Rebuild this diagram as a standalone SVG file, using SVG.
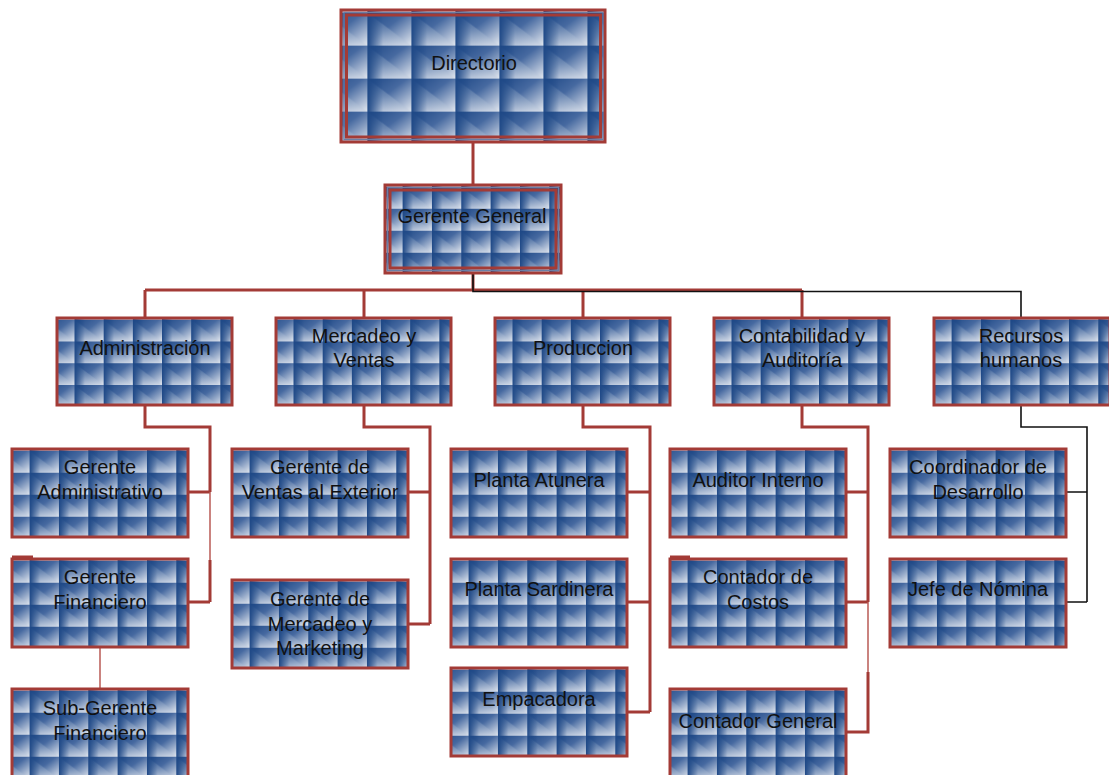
<svg xmlns="http://www.w3.org/2000/svg" width="1109" height="775" viewBox="0 0 1109 775">
<defs>
<linearGradient id="gd" x1="0" y1="0" x2="1" y2="1">
<stop offset="0" stop-color="#1e4886"/>
<stop offset="0.45" stop-color="#4669a0"/>
<stop offset="1" stop-color="#e3e8f0"/>
</linearGradient>
<linearGradient id="gv" x1="0" y1="0" x2="0" y2="1">
<stop offset="0" stop-color="#25508e"/>
<stop offset="1" stop-color="#cfd8e6"/>
</linearGradient>
<linearGradient id="gh" x1="0" y1="0" x2="1" y2="0">
<stop offset="0" stop-color="#1e4886" stop-opacity="1"/>
<stop offset="1" stop-color="#1e4886" stop-opacity="0"/>
</linearGradient>
<pattern id="tex" patternUnits="objectBoundingBox" patternContentUnits="objectBoundingBox" x="0.1" y="0.02" width="0.1667" height="0.25">
<rect x="0" y="0" width="0.1667" height="0.25" fill="url(#gd)"/>
<polygon points="0,0 0,0.25 0.1667,0.25" fill="url(#gv)" opacity="0.7"/>
<rect x="0" y="0" width="0.06" height="0.25" fill="url(#gh)"/>
</pattern>
<style>
.box{fill:url(#tex);stroke:#a33b36;stroke-width:3}
.in{fill:none;stroke:#a33b36;stroke-width:3}
.thin{fill:none;stroke:#6a7fa6;stroke-width:1}
.t{font-family:"Liberation Sans",Arial,sans-serif;font-size:20px;fill:#111;text-anchor:middle}
.c{fill:none;stroke:#a33b36;stroke-width:3}
.cl{fill:none;stroke:#b85a55;stroke-width:1.5}
.k{fill:none;stroke:#111;stroke-width:1.6}
</style>
</defs>
<rect width="1109" height="775" fill="#fff"/>

<g id="connectors">
<path class="c" d="M473,142V185"/>
<path class="c" d="M473,273V290M145,290H802M145,290V318M364,290V318M583,290V318M802,290V318"/>
<path class="k" d="M473,273V291.5H1021V318"/>
<path class="c" d="M145,405V427H210V492M188,492H210M188,602H210"/>
<path class="cl" d="M210,492V602"/>
<path class="c" d="M210,560V602"/>
<path class="cl" d="M100,647V689"/>
<path class="c" d="M364,405V427H430V624M408,492H430M408,624H430"/>
<path class="c" d="M583,405V427H650V712M627,492H650M627,602H650M627,712H650"/>
<path class="c" d="M802,405V427H868V602M846,492H868M846,602H868M846,732H868V672"/>
<path class="cl" d="M868,602V672"/>
<path class="k" d="M1021,405V427H1087V602M1066,492H1087M1066,602H1087"/>
</g>

<g id="directorio">
<rect class="box" x="341" y="10" width="264" height="132"/>
<rect class="thin" x="344" y="12.5" width="259" height="127"/>
<rect class="in" x="346.5" y="15" width="254" height="122"/>
<text class="t" x="474" y="70">Directorio</text>
</g>

<g id="gerente-general">
<rect class="box" x="385" y="185" width="176" height="88"/>
<rect class="thin" x="387.5" y="187.5" width="171" height="83"/>
<rect class="in" x="390" y="190" width="166" height="78"/>
<text class="t" x="472" y="223">Gerente General</text>
</g>

<g id="administracion">
<rect class="box" x="57" y="318" width="175" height="87"/>
<text class="t" x="145" y="355">Administración</text>
</g>
<g id="mercadeo-ventas">
<rect class="box" x="276" y="318" width="175" height="87"/>
<text class="t" x="364" y="343">Mercadeo y</text>
<text class="t" x="364" y="367">Ventas</text>
</g>
<g id="produccion">
<rect class="box" x="495" y="318" width="175" height="87"/>
<text class="t" x="583" y="355">Produccion</text>
</g>
<g id="contabilidad">
<rect class="box" x="714" y="318" width="175" height="87"/>
<text class="t" x="802" y="343">Contabilidad y</text>
<text class="t" x="802" y="367">Auditoría</text>
</g>
<g id="recursos-humanos">
<rect class="box" x="934" y="318" width="176" height="87"/>
<text class="t" x="1021" y="343">Recursos</text>
<text class="t" x="1021" y="367">humanos</text>
</g>

<g id="gerente-administrativo">
<rect class="box" x="12" y="449" width="176" height="88"/>
<text class="t" x="100" y="474">Gerente</text>
<text class="t" x="100" y="499">Administrativo</text>
</g>
<g id="gerente-financiero">
<rect class="box" x="12" y="559" width="176" height="88"/>
<path class="c" d="M12,557H33"/>
<text class="t" x="100" y="584">Gerente</text>
<text class="t" x="100" y="609">Financiero</text>
</g>
<g id="sub-gerente-financiero">
<rect class="box" x="12" y="689" width="176" height="88"/>
<text class="t" x="100" y="715">Sub-Gerente</text>
<text class="t" x="100" y="740">Financiero</text>
</g>

<g id="gerente-ventas-exterior">
<rect class="box" x="232" y="449" width="176" height="88"/>
<text class="t" x="320" y="474">Gerente de</text>
<text class="t" x="320" y="499">Ventas al Exterior</text>
</g>
<g id="gerente-mercadeo-marketing">
<rect class="box" x="232" y="580" width="176" height="88"/>
<text class="t" x="320" y="606">Gerente de</text>
<text class="t" x="320" y="631">Mercadeo y</text>
<text class="t" x="320" y="655">Marketing</text>
</g>

<g id="planta-atunera">
<rect class="box" x="451" y="449" width="176" height="88"/>
<text class="t" x="539" y="487">Planta Atunera</text>
</g>
<g id="planta-sardinera">
<rect class="box" x="451" y="559" width="176" height="88"/>
<text class="t" x="539" y="596">Planta Sardinera</text>
</g>
<g id="empacadora">
<rect class="box" x="451" y="668" width="176" height="88"/>
<text class="t" x="539" y="706">Empacadora</text>
</g>

<g id="auditor-interno">
<rect class="box" x="670" y="449" width="176" height="88"/>
<text class="t" x="758" y="487">Auditor Interno</text>
</g>
<g id="contador-costos">
<rect class="box" x="670" y="559" width="176" height="88"/>
<path class="c" d="M670,557H690"/>
<text class="t" x="758" y="584">Contador de</text>
<text class="t" x="758" y="609">Costos</text>
</g>
<g id="contador-general">
<rect class="box" x="670" y="689" width="176" height="88"/>
<text class="t" x="758" y="728">Contador General</text>
</g>

<g id="coordinador-desarrollo">
<rect class="box" x="890" y="449" width="176" height="88"/>
<text class="t" x="978" y="474">Coordinador de</text>
<text class="t" x="978" y="499">Desarrollo</text>
</g>
<g id="jefe-nomina">
<rect class="box" x="890" y="559" width="176" height="88"/>
<text class="t" x="978" y="596">Jefe de Nómina</text>
</g>
</svg>
